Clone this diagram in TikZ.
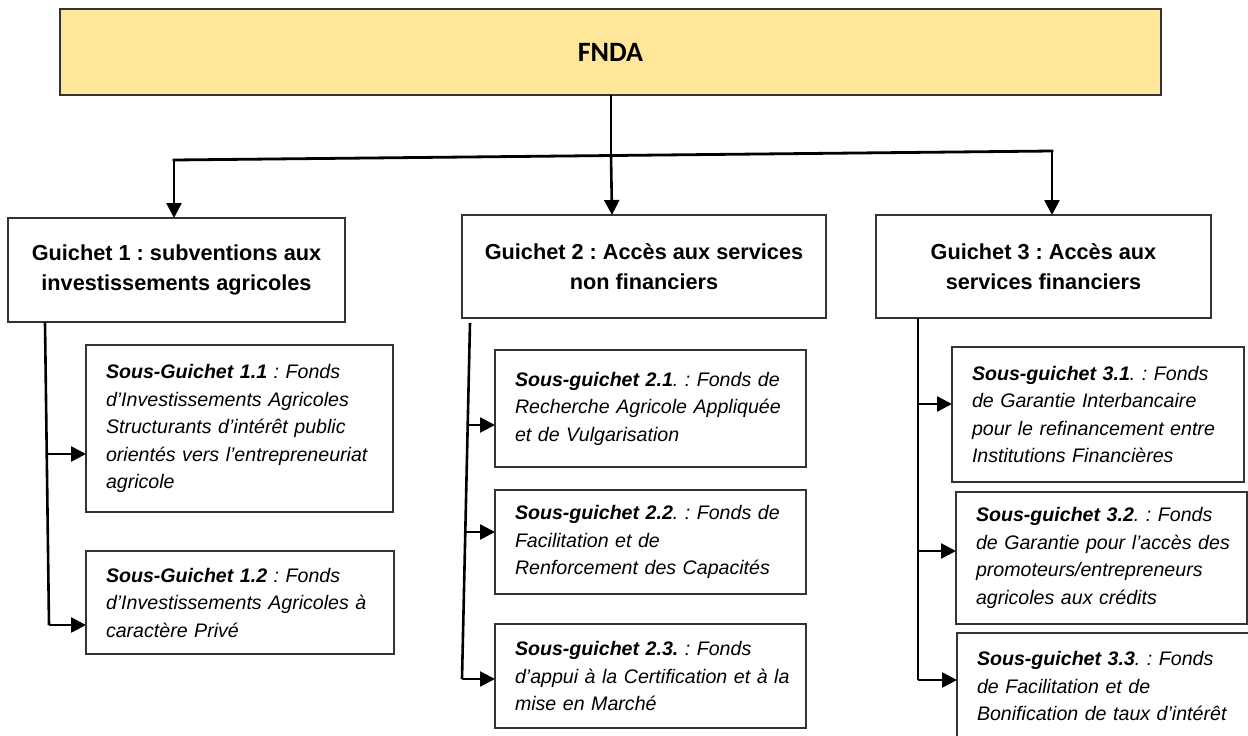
\documentclass[tikz,border=0pt]{standalone}
\usepackage{fontspec}
\setmainfont{Liberation Sans}
\newfontfamily\fndafont{Carlito}
\usetikzlibrary{arrows.meta}
\definecolor{fndafill}{HTML}{FFE699}
\definecolor{boxgray}{HTML}{333333}
\frenchspacing
\begin{document}
\begin{tikzpicture}[x=1pt,y=-1pt,
  box/.style={draw=boxgray, line width=1.3pt, outer sep=0pt, inner sep=0pt, anchor=north west},
  guichet/.style={box, align=center, font=\fontsize{21.7}{30}\selectfont\bfseries},
  sub/.style={box, align=left, inner xsep=20pt, font=\fontsize{19.6}{27.5}\selectfont\itshape},
  conn/.style={line width=2.6pt},
  arr/.style={conn, -{Triangle[length=15pt,width=15pt]}}]
\useasboundingbox (0,0) rectangle (1248,736);
\clip (0,0) rectangle (1248,736);
\fill[white] (0,0) rectangle (1248,736);

% top box
\node[box, fill=fndafill, minimum width=1101pt, minimum height=86pt,
      font=\fontsize{28}{32}\selectfont\fndafont\bfseries] (fnda) at (60,9) {FNDA};

% guichets
\node[guichet, minimum width=337pt, minimum height=104pt] (g1) at (8,218)
  {Guichet 1 : subventions aux\\investissements agricoles};
\node[guichet, minimum width=364pt, minimum height=103pt] (g2) at (462,215)
  {Guichet 2 : Accès aux services\\non financiers};
\node[guichet, minimum width=335pt, minimum height=103pt] (g3) at (876,215)
  {Guichet 3 : Accès aux\\services financiers};

% sous-guichets 1
\node[sub, text width=267pt, minimum height=167pt] (s11) at (86,345)
  {\mbox{\bfseries Sous-Guichet 1.1\mdseries\ : Fonds}\\
   \mbox{d’Investissements Agricoles}\\
   \mbox{Structurants d’intérêt public}\\
   \mbox{orientés vers l’entrepreneuriat}\\
   \mbox{agricole}};
\node[sub, text width=268pt, minimum height=103pt] (s12) at (86,551)
  {\mbox{\bfseries Sous-Guichet 1.2\mdseries\ : Fonds}\\
   \mbox{d’Investissements Agricoles à}\\
   \mbox{caractère Privé}};

% sous-guichets 2
\node[sub, text width=271pt, minimum height=117pt] (s21) at (495,350)
  {\mbox{\bfseries Sous-guichet 2.1\mdseries. : Fonds de}\\
   \mbox{Recherche Agricole Appliquée}\\
   \mbox{et de Vulgarisation}};
\node[sub, text width=271pt, minimum height=104pt] (s22) at (495,490)
  {\mbox{\bfseries Sous-guichet 2.2\mdseries. : Fonds de}\\
   \mbox{Facilitation et de}\\
   \mbox{Renforcement des Capacités}};
\node[sub, text width=271pt, minimum height=104pt] (s23) at (495,624)
  {\mbox{\bfseries Sous-guichet 2.3.\mdseries\ : Fonds}\\
   \mbox{d’appui à la Certification et à la}\\
   \mbox{mise en Marché}};

% sous-guichets 3
\node[sub, text width=252pt, minimum height=135pt] (s31) at (952,347)
  {\mbox{\bfseries Sous-guichet 3.1\mdseries. : Fonds}\\
   \mbox{de Garantie Interbancaire}\\
   \mbox{pour le refinancement entre}\\
   \mbox{Institutions Financières}};
\node[sub, text width=251pt, minimum height=132pt] (s32) at (956,492)
  {\mbox{\bfseries Sous-guichet 3.2\mdseries. : Fonds}\\
   \mbox{de Garantie pour l’accès des}\\
   \mbox{promoteurs/entrepreneurs}\\
   \mbox{agricoles aux crédits}};
\node[sub, text width=263pt, minimum height=106pt] (s33) at (957,633)
  {\mbox{\bfseries Sous-guichet 3.3\mdseries. : Fonds}\\
   \mbox{de Facilitation et de}\\
   \mbox{Bonification de taux d’intérêt}};

% top connectors
\coordinate (hl) at (174,160);
\coordinate (hr) at (1052,151);
\coordinate (hm) at (611,155.5);
\draw[line width=1.2pt] (fnda.south -| hm) -- (hm);
\draw[line width=2.8pt, line cap=rect] (hl) -- (hr);
\draw[arr] (hl) -- (g1.north -| hl);
\draw[arr] (hm) -- (g2.north -| 612,0);
\draw[arr] (hr) -- (g3.north -| hr);

% trunk 1
\coordinate (t1a) at (45,322);
\coordinate (t1b) at (49,625);
\draw[conn] (t1a) -- (t1b);
\draw[arr] (t1b) -- (t1b -| s12.west);
\coordinate (b11) at (47,454);
\draw[arr] (b11) -- (b11 -| s11.west);

% trunk 2
\coordinate (t2a) at (470,323);
\coordinate (t2b) at (462,679);
\draw[conn] (t2a) -- (t2b);
\draw[arr] (t2b) -- (t2b -| s23.west);
\coordinate (b21) at (467.7,425);
\coordinate (b22) at (465.3,532);
\draw[arr] (b21) -- (b21 -| s21.west);
\draw[arr] (b22) -- (b22 -| s22.west);

% trunk 3
\coordinate (t3a) at (918,318);
\coordinate (t3b) at (918,680);
\draw[conn] (t3a) -- (t3b);
\draw[arr] (t3b) -- (t3b -| s33.west);
\coordinate (b31) at (918,404);
\coordinate (b32) at (918,551);
\draw[arr] (b31) -- (b31 -| s31.west);
\draw[arr] (b32) -- (b32 -| s32.west);
\end{tikzpicture}
\end{document}
